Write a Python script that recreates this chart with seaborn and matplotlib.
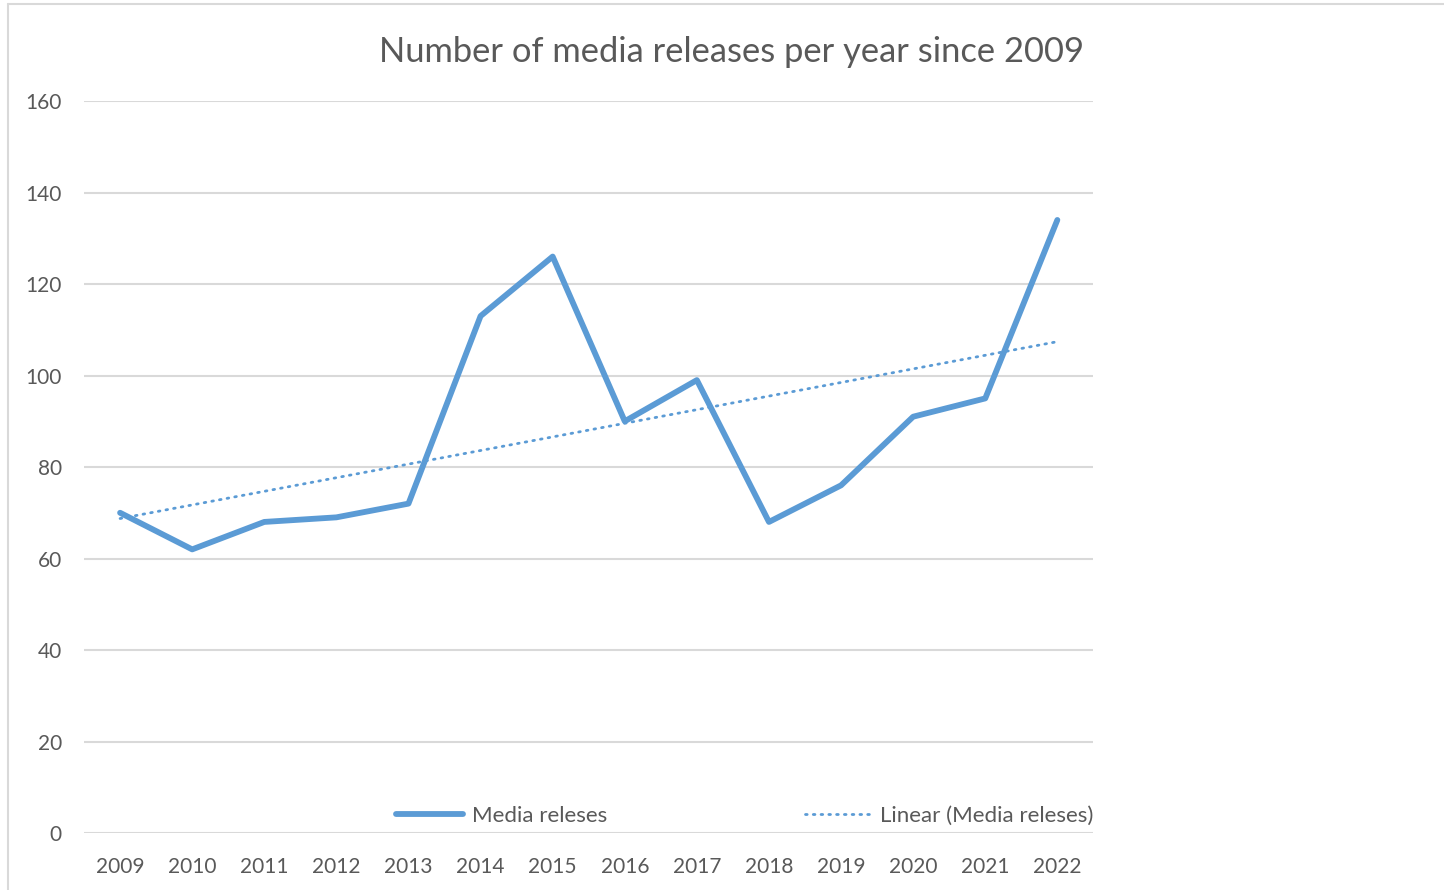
import matplotlib.pyplot as plt
import numpy as np
import pandas as pd
import seaborn as sns
from matplotlib.lines import Line2D

# data
years = ["2009", "2010", "2011", "2012", "2013", "2014", "2015",
         "2016", "2017", "2018", "2019", "2020", "2021", "2022"]
media_releases = [70, 62, 68, 69, 72, 113, 126, 90, 99, 68, 76, 91, 95, 134]
y_ticks = [0, 20, 40, 60, 80, 100, 120, 140, 160]

BLUE = "#5B9BD5"
GREY_TEXT = "#595959"
GRID = "#D9D9D9"


def main():
    df = pd.DataFrame({"year": years, "count": media_releases})
    df["idx"] = np.arange(len(df))

    # linear trendline, as Excel does it
    slope, intercept = np.polyfit(df["idx"], df["count"], 1)
    df["trend"] = intercept + slope * df["idx"]

    sns.set_theme(style="white")
    plt.rcParams["font.family"] = ["Lato", "DejaVu Sans"]

    fig = plt.figure(figsize=(14.44, 8.9), dpi=100)
    ax = fig.add_axes([0.0582, 0.064, 0.699, 0.8225])

    sns.lineplot(x="idx", y="count", data=df, ax=ax, color=BLUE, linewidth=4.2,
                 solid_capstyle="round", solid_joinstyle="round", label="Media releses")
    sns.lineplot(x="idx", y="trend", data=df, ax=ax, color=BLUE, linewidth=2.0,
                 linestyle=(0, (0.6, 2.2)), dash_capstyle="round", label="Linear (Media releses)")

    ax.set_xlim(-0.5, len(years) - 0.5)
    ax.set_ylim(0, 160)
    ax.set_xticks(df["idx"])
    ax.set_xticklabels(years)
    ax.set_yticks(y_ticks)
    ax.grid(axis="y", color=GRID, linewidth=1.5)
    ax.set_axisbelow(True)
    for s in ax.spines.values():
        s.set_visible(False)
    ax.tick_params(axis="both", length=0, labelsize=15, labelcolor=GREY_TEXT)
    ax.tick_params(axis="x", pad=17)
    ax.tick_params(axis="y", pad=16)
    ax.set_xlabel("")
    ax.set_ylabel("")

    ax.set_title("Number of media releases per year since 2009", fontsize=24.8,
                 color=GREY_TEXT, pad=28, x=0.641)

    handles, labels = ax.get_legend_handles_labels()
    ax.get_legend().remove()
    fig.legend(handles, labels, ncol=2, loc="center", bbox_to_anchor=(0.516, 0.0833),
               frameon=False, fontsize=16, labelcolor=GREY_TEXT, handlelength=3.0,
               columnspacing=8.9, handletextpad=0.4)

    # chart frame
    fig.add_artist(Line2D([8 / 1444, 8 / 1444], [0, 1 - 3.5 / 890], transform=fig.transFigure,
                          color=GRID, linewidth=1.5))
    fig.add_artist(Line2D([8 / 1444, 1], [1 - 3.5 / 890, 1 - 3.5 / 890], transform=fig.transFigure,
                          color=GRID, linewidth=1.5))

    fig.savefig("out.png", dpi=100)


if __name__ == '__main__':
    main()
